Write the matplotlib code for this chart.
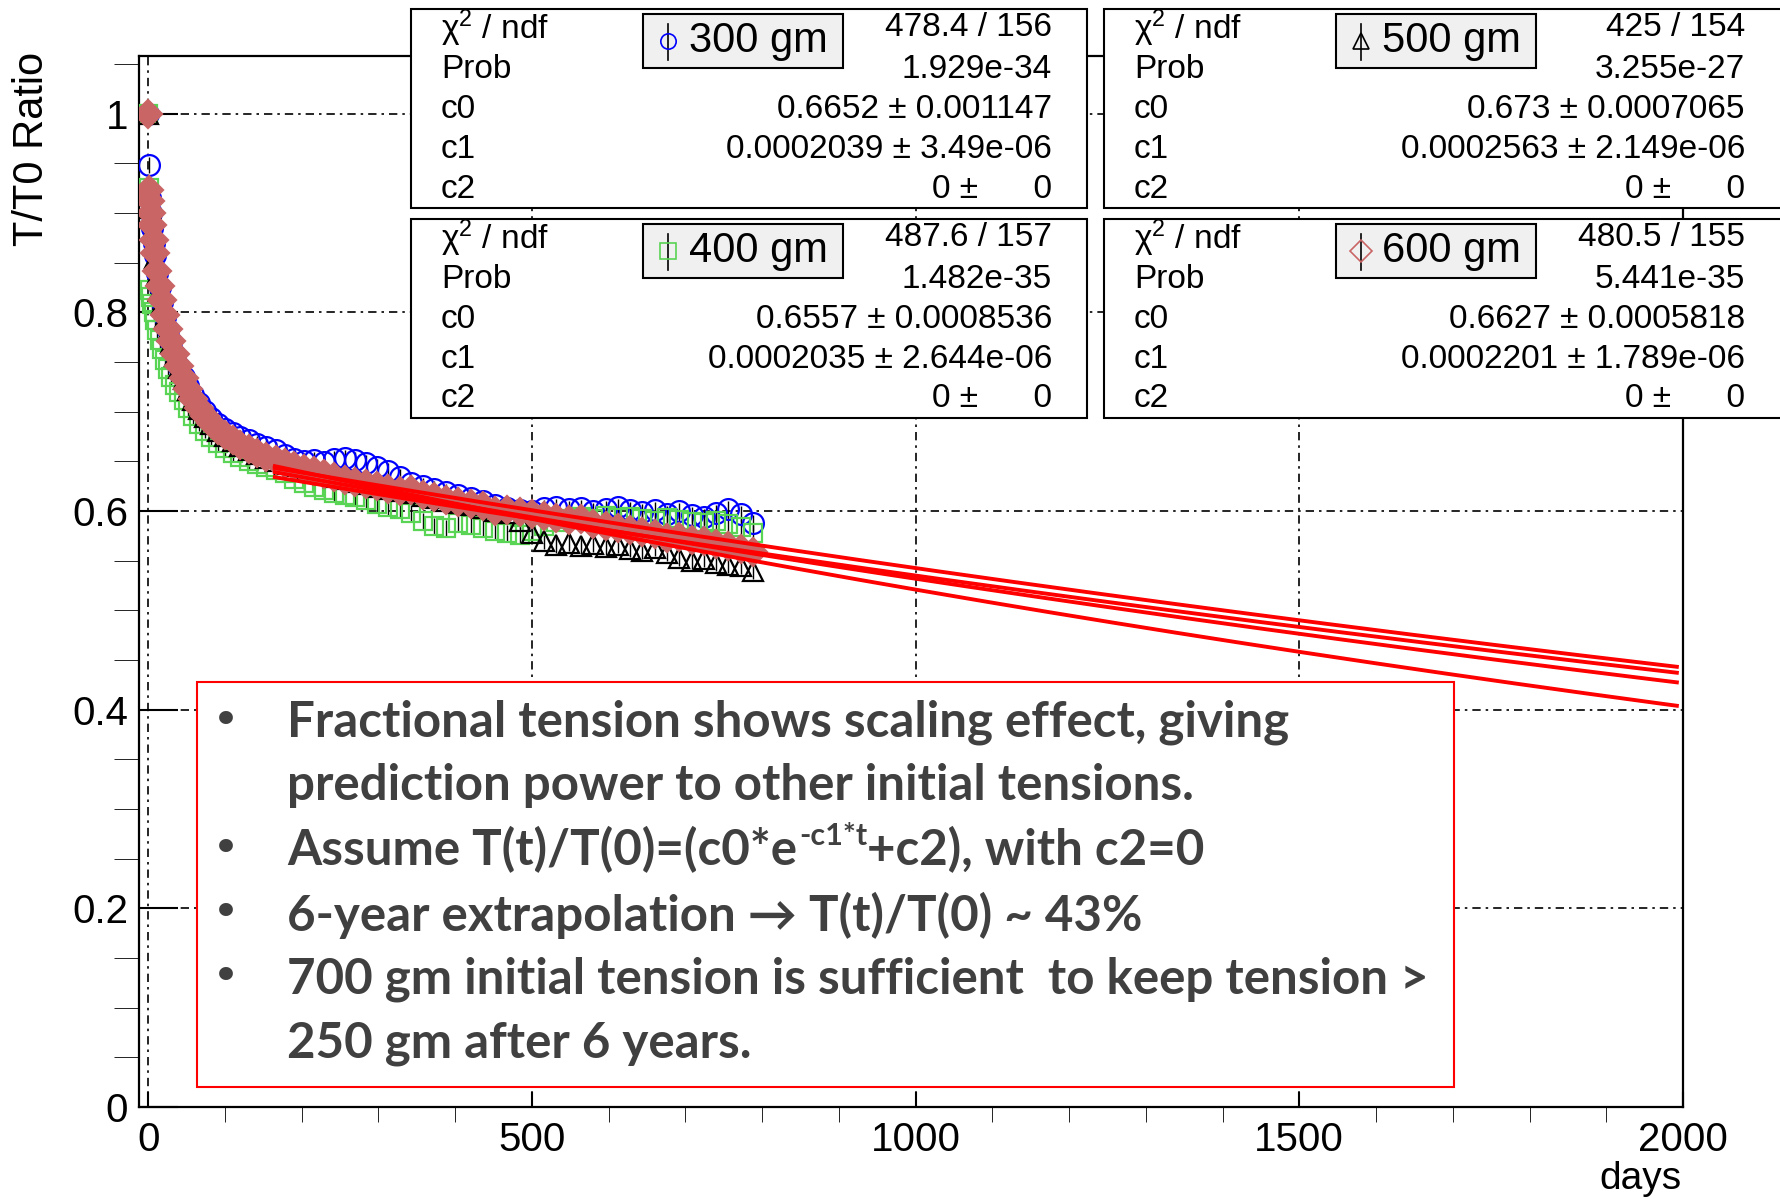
import numpy as np
import matplotlib.pyplot as plt
from matplotlib.patches import Rectangle
from matplotlib.lines import Line2D
from matplotlib.ticker import MultipleLocator

plt.rcParams['mathtext.fontset'] = 'custom'
plt.rcParams['mathtext.rm'] = 'Liberation Sans'
plt.rcParams['mathtext.it'] = 'Liberation Sans:italic'

# measurement days (shared by all four tensions)
days = [0, 1, 2, 3, 5, 7, 9, 12, 15, 18,
        22, 26, 30, 35, 40, 46, 52, 59, 66, 74,
        82, 91, 100, 110, 120, 131, 142, 154, 166, 178,
        190, 203, 216, 229, 242, 256, 270, 284, 298, 313,
        328, 343, 358, 373, 388, 404, 420, 436, 452, 468,
        484, 500, 516, 532, 548, 564, 580, 596, 612, 628,
        644, 660, 676, 692, 708, 724, 740, 756, 772, 788]

ratio_300 = [1.000, 0.948, 0.915, 0.900, 0.885, 0.870, 0.858, 0.840, 0.825, 0.810,
             0.795, 0.782, 0.770, 0.757, 0.745, 0.735, 0.726, 0.717, 0.709, 0.701,
             0.694, 0.688, 0.683, 0.678, 0.674, 0.671, 0.667, 0.664, 0.661, 0.656,
             0.652, 0.650, 0.651, 0.649, 0.652, 0.653, 0.651, 0.648, 0.644, 0.640,
             0.634, 0.628, 0.625, 0.622, 0.619, 0.616, 0.613, 0.610, 0.606, 0.603,
             0.601, 0.600, 0.603, 0.604, 0.602, 0.603, 0.600, 0.602, 0.604, 0.601,
             0.599, 0.601, 0.597, 0.600, 0.596, 0.594, 0.598, 0.602, 0.597, 0.588]

ratio_400 = [1.000, 0.925, 0.822, 0.815, 0.808, 0.800, 0.792, 0.782, 0.772, 0.763,
             0.752, 0.743, 0.735, 0.727, 0.720, 0.712, 0.704, 0.696, 0.688, 0.681,
             0.674, 0.668, 0.663, 0.658, 0.654, 0.650, 0.647, 0.644, 0.641, 0.638,
             0.632, 0.628, 0.624, 0.621, 0.618, 0.616, 0.614, 0.611, 0.607, 0.604,
             0.602, 0.598, 0.590, 0.585, 0.583, 0.588, 0.586, 0.583, 0.580, 0.578,
             0.576, 0.580, 0.585, 0.589, 0.592, 0.594, 0.592, 0.595, 0.593, 0.594,
             0.592, 0.590, 0.593, 0.591, 0.589, 0.588, 0.590, 0.587, 0.584, 0.578]

ratio_500 = [1.000, 0.920, 0.905, 0.895, 0.882, 0.868, 0.855, 0.838, 0.822, 0.808,
             0.794, 0.781, 0.769, 0.756, 0.744, 0.733, 0.722, 0.712, 0.703, 0.695,
             0.688, 0.681, 0.675, 0.670, 0.665, 0.661, 0.657, 0.653, 0.650, 0.647,
             0.645, 0.642, 0.640, 0.637, 0.634, 0.632, 0.629, 0.627, 0.624, 0.622,
             0.620, 0.618, 0.615, 0.613, 0.610, 0.608, 0.606, 0.603, 0.600, 0.598,
             0.590, 0.578, 0.570, 0.566, 0.568, 0.565, 0.567, 0.564, 0.566, 0.562,
             0.560, 0.563, 0.558, 0.553, 0.550, 0.552, 0.548, 0.546, 0.545, 0.540]

ratio_600 = [1.000, 0.923, 0.912, 0.900, 0.888, 0.873, 0.860, 0.842, 0.826, 0.812,
             0.797, 0.783, 0.771, 0.758, 0.746, 0.734, 0.723, 0.713, 0.704, 0.696,
             0.689, 0.682, 0.676, 0.671, 0.666, 0.662, 0.658, 0.654, 0.651, 0.648,
             0.645, 0.642, 0.640, 0.637, 0.634, 0.631, 0.629, 0.627, 0.625, 0.622,
             0.620, 0.621, 0.616, 0.614, 0.611, 0.609, 0.607, 0.605, 0.600, 0.601,
             0.599, 0.597, 0.595, 0.593, 0.591, 0.592, 0.587, 0.585, 0.583, 0.581,
             0.579, 0.577, 0.573, 0.574, 0.571, 0.570, 0.567, 0.565, 0.562, 0.559]

ratio_err = 0.008

labels = ['300 gm', '500 gm', '400 gm', '600 gm']
chi2 = ['478.4 / 156', '425 / 154', '487.6 / 157', '480.5 / 155']
prob = ['1.929e-34', '3.255e-27', '1.482e-35', '5.441e-35']
c0 = [0.6652, 0.673, 0.6557, 0.6627]
c0_err = ['0.001147', '0.0007065', '0.0008536', '0.0005818']
c1 = [0.0002039, 0.0002563, 0.0002035, 0.0002201]
c1_err = ['3.49e-06', '2.149e-06', '2.644e-06', '1.789e-06']
fit_range = [165, 1992]

# each line: list of (text, superscript?) pieces
bullets = [[('Fractional tension shows scaling effect, giving', False)],
           [('prediction power to other initial tensions.', False)],
           [('Assume T(t)/T(0)=(c0*e', False), ('-c1*t', True),
            ('+c2), with c2=0', False)],
           [('6-year extrapolation \u2192 T(t)/T(0) ~ 43%', False)],
           [('700 gm initial tension is sufficient  to keep tension >', False)],
           [('250 gm after 6 years.', False)]]
bullet_on = [True, False, True, True, True, False]

W, H = 1781, 1199
fig = plt.figure(figsize=(W / 100, H / 100), dpi=100)


def fx(x):
    return x / W


def fy(y):
    return 1 - y / H


ax = fig.add_axes([fx(139), fy(1107), (1683 - 139) / W, (1107 - 56) / H])
ax.set_xlim(-12, 2000)
ax.set_ylim(0, 1.058)

styles = [  # marker, color, size, filled
    ('o', '#0000ff', 15, False),
    ('^', '#000000', 14, False),
    ('s', '#59d454', 13, False),
    ('D', '#c96565', 14, True),
]
series = [ratio_300, ratio_400, ratio_500, ratio_600]
draw_order = [0, 2, 1, 3]  # 300, 400, 500, 600 -> styles index
for vals, si in zip(series, draw_order):
    m, col, ms, filled = styles[si]
    ax.errorbar(days, vals, yerr=ratio_err, fmt=m, ms=ms, mec=col,
                mfc=col if filled else 'none', mew=1.6, ecolor='black',
                elinewidth=1.0, capsize=0, zorder=3)

t = np.linspace(fit_range[0], fit_range[1], 200)
for a, b in zip(c0, c1):
    ax.plot(t, a * np.exp(-b * t), color='red', lw=2.8, zorder=4)

ax.xaxis.set_major_locator(MultipleLocator(500))
ax.xaxis.set_minor_locator(MultipleLocator(100))
ax.yaxis.set_minor_locator(MultipleLocator(0.05))
ax.set_yticks([0, 0.2, 0.4, 0.6, 0.8, 1.0])
ax.set_yticklabels(['0', '0.2', '0.4', '0.6', '0.8', '1'])
ax.tick_params(direction='in', top=False, right=False, width=1.5,
               labelsize=29)
ax.tick_params(axis='x', which='both', length=11, pad=10)
ax.tick_params(axis='y', which='major', length=28, pad=8)
ax.tick_params(axis='y', which='minor', length=18)
for lab in ax.get_xticklabels() + ax.get_yticklabels():
    lab.set_fontfamily('Liberation Sans')
for s in ax.spines.values():
    s.set_linewidth(1.6)
ax.grid(True, which='major', color='black', lw=1.2,
        linestyle=(0, (5, 3, 1.5, 3)), zorder=1)

fig.text(fx(32), fy(52), 'T/T0 Ratio', rotation=90, ha='center', va='top',
         fontsize=30, family='Liberation Sans')
fig.text(fx(1682), fy(1179), 'days', ha='right', va='center',
         fontsize=28, family='Liberation Sans')

# fit statistics boxes
box_pos = [(411, 9), (1104, 9), (411, 219), (1104, 219)]
names = ['\u03c7$^{2}$ / ndf', 'Prob', 'c0', 'c1', 'c2']
row_dy = [19, 60, 100, 140, 180]
for i, (bx, by) in enumerate(box_pos):
    bw = 676 if bx < 1000 else 700
    fig.add_artist(Rectangle((fx(bx), fy(by + 199)), bw / W, 199 / H,
                             transform=fig.transFigure, facecolor='white',
                             edgecolor='black', lw=1.5, zorder=10))
    vals = [chi2[i], prob[i],
            '%s \u00b1 %s' % (c0[i], c0_err[i]),
            '%s \u00b1 %s' % (repr(c1[i]), c1_err[i]),
            '0 \u00b1      0']
    for name, val, dy in zip(names, vals, row_dy):
        fig.text(fx(bx + 30), fy(by + dy), name, ha='left', va='center',
                 fontsize=24, family='Liberation Sans', zorder=11)
        fig.text(fx(bx + 641), fy(by + dy), val, ha='right', va='center',
                 fontsize=24, family='Liberation Sans', zorder=11)
    # legend entry
    fig.add_artist(Rectangle((fx(bx + 232), fy(by + 59)), 200 / W, 54 / H,
                             transform=fig.transFigure, facecolor='#f0f0f0',
                             edgecolor='black', lw=1.5, zorder=12))
    m, col, ms, filled = styles[i]
    fig.add_artist(Line2D([fx(bx + 257)] * 2, [fy(by + 15), fy(by + 51)],
                          transform=fig.transFigure, color='black', lw=1.2,
                          zorder=13))
    fig.add_artist(Line2D([fx(bx + 257)], [fy(by + 32)], marker=m,
                          ms=min(ms, 13) * 0.85, mfc='none', mec=col, mew=1.2,
                          transform=fig.transFigure, zorder=14))
    fig.text(fx(bx + 278), fy(by + 32), labels[i], ha='left', va='center',
             fontsize=30, family='Liberation Sans', zorder=13)

# summary text box
fig.add_artist(Rectangle((fx(197), fy(1087)), (1454 - 197) / W, (1087 - 682) / H,
                         transform=fig.transFigure, facecolor='white',
                         edgecolor='red', lw=1.5, zorder=10))
renderer = fig.canvas.get_renderer()
line_y = [722, 786, 850, 915, 979, 1043]
bfont = dict(fontweight='bold', family=['Lato', 'DejaVu Sans'],
             color='#404040', zorder=11)
for pieces, on, ly in zip(bullets, bullet_on, line_y):
    if on:
        fig.text(fx(226), fy(ly), '\u2022', ha='center', va='center',
                 fontsize=34, color='#404040', zorder=11)
    x = 287
    for txt, sup in pieces:
        if sup:
            tt = fig.text(fx(x + 2), fy(ly - 14), txt, ha='left',
                          va='center', fontsize=22, **bfont)
        else:
            tt = fig.text(fx(x), fy(ly), txt, ha='left', va='center',
                          fontsize=35.5, **bfont)
        x = tt.get_window_extent(renderer).x1

fig.savefig('out.png', dpi=100)
